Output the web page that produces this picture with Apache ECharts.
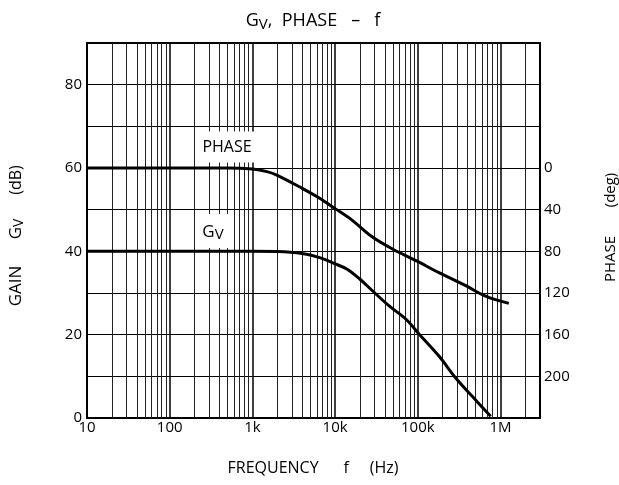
<!DOCTYPE html>
<html>
<head>
<meta charset="utf-8">
<script src="https://cdn.jsdelivr.net/npm/echarts@6/dist/echarts.min.js"></script>
<style>
html,body{margin:0;padding:0;background:#fff;}
#chart{width:619px;height:485px;}
</style>
</head>
<body>
<div id="chart"></div>
<script>
// ---- data ----
const gainFreq = [10, 1000, 2000, 4000, 6500, 10000, 14000, 20000, 28000, 45000, 72000, 104000, 181000, 287000, 455000, 760000];
const gainDb   = [40, 40, 39.95, 39.5, 38.5, 37.0, 35.7, 33.3, 30.6, 26.9, 23.7, 20.1, 14.8, 9.6, 5.2, 0.4];
const phaseFreq = [10, 500, 1000, 1500, 2000, 4000, 6500, 10000, 16000, 28000, 50000, 95000, 180000, 380000, 660000, 1260000];
const phaseDeg  = [0, 0, 1, 3.5, 7, 19.5, 29, 39, 50, 66, 78, 89, 100.5, 113, 123, 130];
const freqTicks = [10, 100, 1000, 10000, 100000, 1000000];
const freqTickLabels = ['10', '100', '1k', '10k', '100k', '1M'];
const gainTickLabels = [0, 20, 40, 60, 80];
const phaseTickLabels = [0, 40, 80, 120, 160, 200];

const FONT = '"Open Sans", "DejaVu Sans", sans-serif';

// minor vertical grid lines (2..9 within each decade)
const minorLines = [];
for (let d = 10; d <= 1000000; d *= 10) {
  for (let k = 2; k <= 9; k++) {
    const v = d * k;
    if (v < 3000000) minorLines.push({ xAxis: v });
  }
}

const chart = echarts.init(document.getElementById('chart'), null, { renderer: 'canvas' });
chart.setOption({
  animation: false,
  backgroundColor: '#fff',
  grid: { left: 87, right: 79, top: 43, bottom: 67, show: true, borderColor: '#000', borderWidth: 2, backgroundColor: 'transparent' },
  xAxis: {
    type: 'log', logBase: 10, min: 10, max: 3000000,
    axisLine: { show: true, lineStyle: { color: '#000', width: 2 } },
    axisTick: { show: false },
    axisLabel: {
      color: '#000', fontFamily: FONT, fontSize: 15, margin: 2,
      formatter: v => { const i = freqTicks.findIndex(t => Math.abs(t - v) / t < 1e-6); return i >= 0 ? freqTickLabels[i] : ''; }
    },
    splitLine: { show: true, lineStyle: { color: '#000', width: 1.5 } }
  },
  yAxis: [
    {
      type: 'value', min: 0, max: 90, interval: 10, position: 'left',
      axisLine: { show: true, lineStyle: { color: '#000', width: 2 } },
      axisTick: { show: false },
      axisLabel: { color: '#000', fontFamily: FONT, fontSize: 15, margin: 5,
        formatter: v => gainTickLabels.indexOf(v) >= 0 ? String(v) : '' },
      splitLine: { show: false }
    },
    {
      type: 'value', min: -120, max: 240, interval: 40, inverse: true, position: 'right',
      axisLine: { show: true, lineStyle: { color: '#000', width: 2 } },
      axisTick: { show: false },
      axisLabel: { color: '#000', fontFamily: FONT, fontSize: 15, margin: 4,
        formatter: v => phaseTickLabels.indexOf(v) >= 0 ? String(v) : '' },
      splitLine: { show: true, lineStyle: { color: '#000', width: 1.2 } }
    }
  ],
  series: [
    {
      name: 'grid', type: 'line', data: [], silent: true,
      markLine: { silent: true, symbol: ['none', 'none'], label: { show: false },
        lineStyle: { color: '#222', width: 1, type: 'solid' }, emphasis: { disabled: true },
        data: minorLines }
    },
    {
      name: 'GV', type: 'line', yAxisIndex: 0, showSymbol: false, smooth: 0.35,
      lineStyle: { color: '#000', width: 3 },
      data: gainFreq.map((f, i) => [f, gainDb[i]]), z: 5
    },
    {
      name: 'PHASE', type: 'line', yAxisIndex: 1, showSymbol: false, smooth: 0.35,
      lineStyle: { color: '#000', width: 3 },
      data: phaseFreq.map((f, i) => [f, phaseDeg[i]]), z: 5
    }
  ],
  graphic: [
    { type: 'text', x: 313, y: 21, z: 10, style: {
        text: '{g|G}{s|V}{g|,  PHASE   –   f}', align: 'center', verticalAlign: 'middle', fill: '#000',
        rich: { g: { fontFamily: FONT, fontSize: 18, lineHeight: 22, fill: '#000' },
                s: { fontFamily: FONT, fontSize: 15, lineHeight: 13, verticalAlign: 'bottom', fill: '#000' } } } },
    { type: 'text', x: 313, y: 468, z: 10, style: {
        text: 'FREQUENCY      f     (Hz)', align: 'center', verticalAlign: 'middle', fill: '#000',
        font: '16px ' + FONT } },
    { type: 'text', x: 16, y: 286, rotation: Math.PI / 2, z: 10, style: {
        text: 'GAIN', align: 'center', verticalAlign: 'middle', fill: '#000', font: '17px ' + FONT } },
    { type: 'text', x: 16, y: 229, rotation: Math.PI / 2, z: 10, style: {
        text: '{g|G}{s|V}', align: 'center', verticalAlign: 'middle', fill: '#000',
        rich: { g: { fontFamily: FONT, fontSize: 17, lineHeight: 20, fill: '#000' },
                s: { fontFamily: FONT, fontSize: 14, lineHeight: 12, verticalAlign: 'bottom', fill: '#000' } } } },
    { type: 'text', x: 16, y: 180, rotation: Math.PI / 2, z: 10, style: {
        text: '(dB)', align: 'center', verticalAlign: 'middle', fill: '#000', font: '16px ' + FONT } },
    { type: 'text', x: 611, y: 259, rotation: Math.PI / 2, z: 10, style: {
        text: 'PHASE', align: 'center', verticalAlign: 'middle', fill: '#000', font: '15px ' + FONT } },
    { type: 'text', x: 611, y: 190, rotation: Math.PI / 2, z: 10, style: {
        text: '(deg)', align: 'center', verticalAlign: 'middle', fill: '#000', font: '15px ' + FONT } },
    { type: 'text', x: 227, y: 147, z: 10, style: {
        text: 'PHASE', align: 'center', verticalAlign: 'middle', fill: '#000',
        font: '16px ' + FONT, backgroundColor: '#fff', padding: [8, 3, 7, 3] } },
    { type: 'text', x: 213, y: 231, z: 10, style: {
        text: '{g|G}{s|V}', align: 'center', verticalAlign: 'middle', fill: '#000',
        backgroundColor: '#fff', padding: [8, 6, 6, 6],
        rich: { g: { fontFamily: FONT, fontSize: 17, lineHeight: 20, fill: '#000' },
                s: { fontFamily: FONT, fontSize: 15, lineHeight: 12, verticalAlign: 'bottom', fill: '#000' } } } }
  ]
});
</script>
</body>
</html>
